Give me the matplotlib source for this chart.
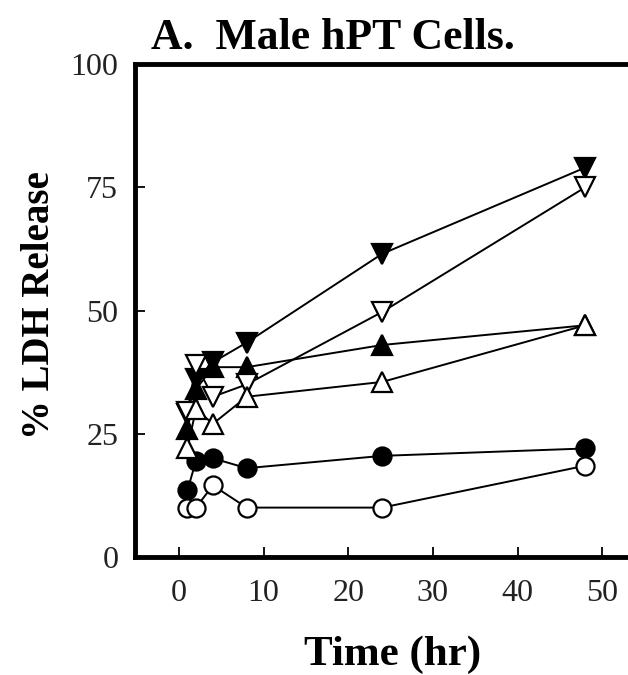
import matplotlib
matplotlib.use("Agg")
import matplotlib.pyplot as plt

# time points (hr)
hours = [1, 2, 4, 8, 24, 48]

# % LDH release
open_circle = [10, 10, 14.5, 10, 10, 18.5]
filled_circle = [13.5, 19.5, 20, 18, 20.5, 22]
open_up = [22, 30, 27, 32.5, 35.5, 47]
filled_up = [26, 34, 38.5, 38.5, 43, 47]
open_down = [29.5, 39, 32.5, 35, 49.7, 75]
filled_down = [29, 36, 39.5, 43.5, 61.5, 79]

yticks = [0, 25, 50, 75, 100]
xticks = [0, 10, 20, 30, 40, 50]

plt.rcParams['font.family'] = ['Liberation Serif', 'DejaVu Serif']

fig = plt.figure(figsize=(6.28, 6.75), dpi=100)
ax = fig.add_axes([0.215, 0.175, 0.791, 0.730])

# filled symbols first, open ones drawn over them
series = [
    (filled_down, 'v', 'black', 14),
    (filled_up, '^', 'black', 14),
    (filled_circle, 'o', 'black', 13),
    (open_down, 'v', 'white', 14),
    (open_up, '^', 'white', 14),
    (open_circle, 'o', 'white', 13),
]
for vals, mk, fc, ms in series:
    ax.plot(hours, vals, color='black', lw=1.4, marker=mk, ms=ms,
            mfc=fc, mec='black', mew=1.6, clip_on=False)

ax.set_xlim(-5.2, 53.5)
ax.set_ylim(0, 100)
ax.set_xticks(xticks)
ax.set_yticks(yticks)

for side in ['left', 'bottom', 'top']:
    ax.spines[side].set_linewidth(3.5)
ax.spines['right'].set_visible(False)

ax.tick_params(axis='both', direction='in', length=7, width=1.3,
               labelsize=23, labelcolor='#222222')
ax.tick_params(axis='x', pad=16)
ax.tick_params(axis='y', pad=12)

fig.text(333 / 628, 1 - 38 / 675, 'A.  Male hPT Cells.', ha='center',
         va='center', fontsize=31.5, fontweight='bold')
fig.text(393 / 628, 1 - 655 / 675, 'Time (hr)', ha='center', va='center',
         fontsize=31, fontweight='bold')
fig.text(40 / 628, 1 - 305 / 675, '% LDH Release', ha='center',
         va='center', rotation=90, fontsize=28, fontweight='bold')

fig.savefig('out.png', dpi=100)
